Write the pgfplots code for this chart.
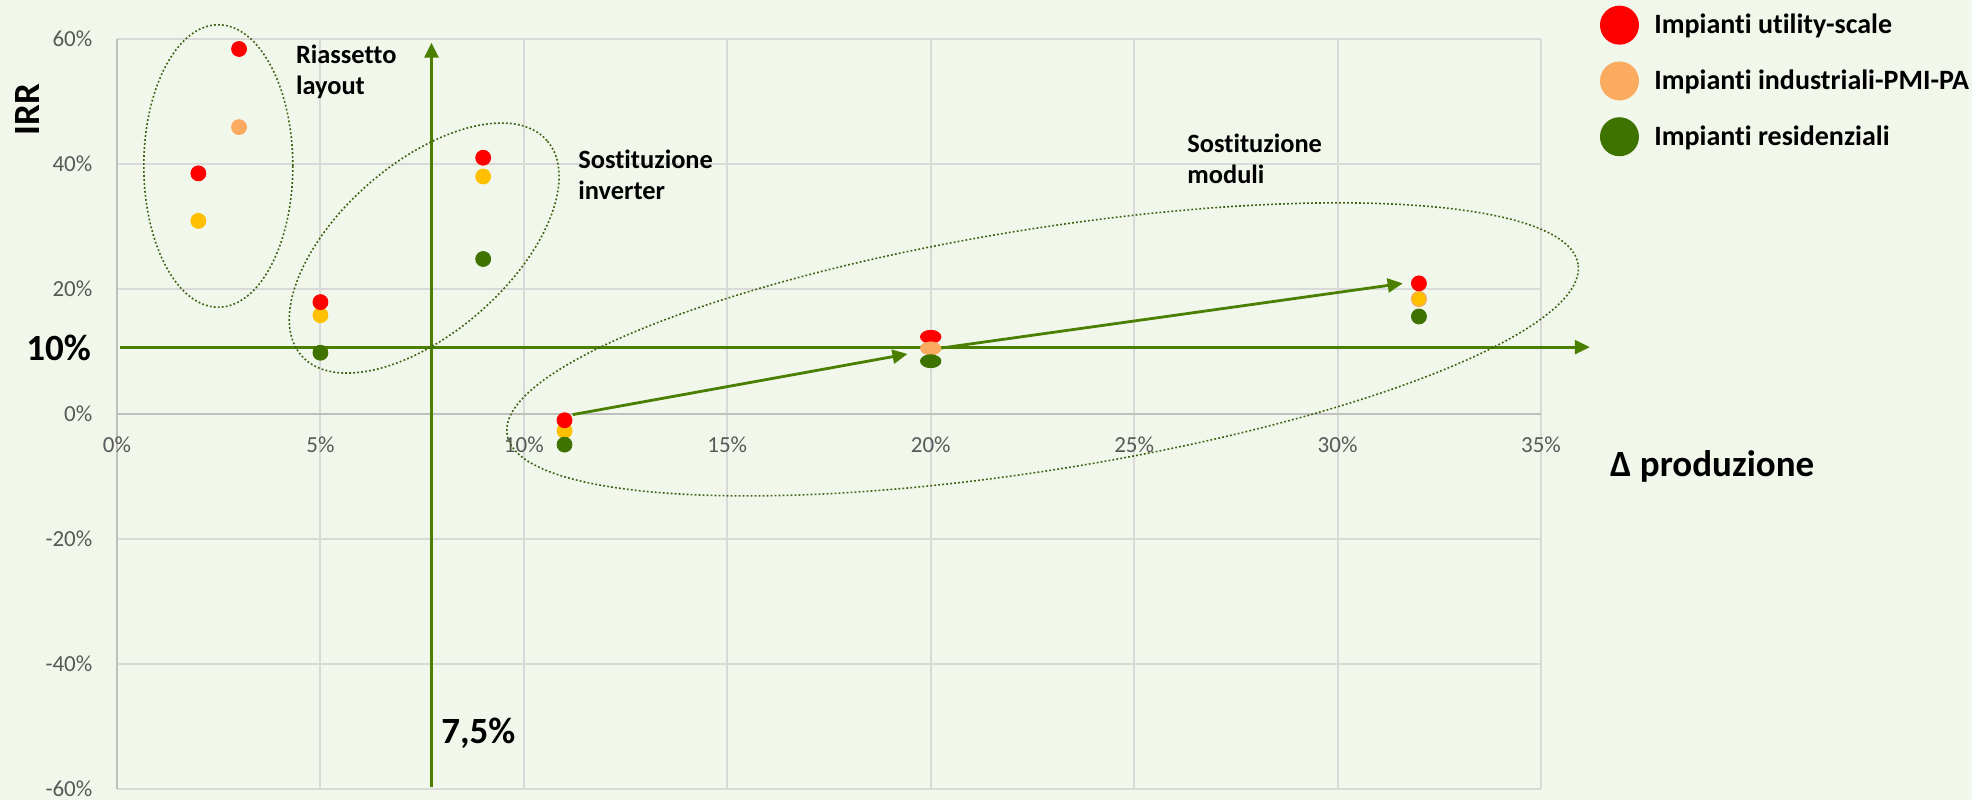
\documentclass[border=0pt]{standalone}
\usepackage{pgfplots}
\pgfplotsset{compat=1.18}
\usepackage{fontspec}
\setmainfont{Carlito}[Ligatures=NoCommon]
\usetikzlibrary{arrows.meta}

\definecolor{bg}{HTML}{F2F7EC}
\definecolor{gridc}{HTML}{D9D9D9}
\definecolor{axc}{HTML}{BFBFBF}
\definecolor{tickc}{HTML}{595959}
\definecolor{ured}{HTML}{FF0000}
\definecolor{iorange}{HTML}{FAAB60}
\definecolor{iyellow}{HTML}{FFC000}
\definecolor{rgreen}{HTML}{3F7300}
\definecolor{arrowg}{HTML}{4A7F00}
\definecolor{ellg}{HTML}{3A6210}

\newcommand{\annotfont}{\bfseries\fontsize{13.2}{15}\selectfont}
\newcommand{\legfont}{\bfseries\fontsize{14}{16}\selectfont}
\newcommand{\bigfont}{\bfseries\fontsize{18.5}{21}\selectfont}

\tikzset{
  ell/.style={ellg, line width=0.8pt, dash pattern=on 0.9pt off 1.1pt},
  arr/.style={arrowg, line width=1.4pt, -{Triangle[length=7.5pt,width=7pt]}},
}
\pgfplotsset{
  dot/.style={only marks, mark=*, mark size=3.75pt, forget plot},
  flat/.style={mark options={xscale=1.37, yscale=0.87}},
}

\begin{document}
\begin{tikzpicture}
\fill[bg] (0,0) rectangle (986pt,400pt);
\useasboundingbox (0,0) rectangle (986pt,400pt);
\begin{axis}[
  at={(58.5pt,5.5pt)}, anchor=south west,
  scale only axis, width=712pt, height=375pt,
  xmin=0, xmax=35, ymin=-60, ymax=60,
  axis x line=middle, axis y line=left,
  axis line style={axc, line width=1.2pt, -},
  hide obscured x ticks=false, hide obscured y ticks=false,
  xtick={0,5,...,35}, ytick={-60,-40,...,60},
  xticklabels={0\%,5\%,10\%,15\%,20\%,25\%,30\%,35\%},
  yticklabels={-60\%,-40\%,-20\%,0\%,20\%,40\%,60\%},
  major tick length=0pt,
  grid=major, major grid style={gridc, line width=1pt},
  tick label style={font=\fontsize{11.5}{13}\selectfont, text=tickc, inner sep=0pt},
  xticklabel style={anchor=base, yshift=-19.45pt},
  yticklabel style={anchor=east, xshift=-12.15pt},
  clip=false,
  legend style={at={(axis cs:36.44,65.4)}, anchor=north west, draw=none, fill=none,
    inner sep=0pt, row sep=8.4pt, column sep=7.7pt, nodes={inner sep=0pt},
    font=\legfont, cells={anchor=west}},
  legend image code/.code={\fill[#1, draw=none] (9.75pt,0pt) circle[radius=9.75pt];},
]

% reference thresholds
\draw[arr] (axis cs:7.73,-59.7) -- (axis cs:7.73,59.4);
\draw[arr] (axis cs:0.08,10.7) -- (axis cs:36.2,10.7);

% grouping ellipses
\draw[ell] (axis cs:2.49,39.68) ellipse [x radius=37.25pt, y radius=70.6pt];
\draw[ell, rotate around={41.2:(axis cs:7.55,26.55)}] (axis cs:7.55,26.55) ellipse [x radius=81.6pt, y radius=42.4pt];
\draw[ell, rotate around={9.04:(axis cs:22.75,10.34)}] (axis cs:22.75,10.34) ellipse [x radius=271.1pt, y radius=60.35pt];

% path of module replacement
\draw[arr] (axis cs:11.2,-0.1) -- (axis cs:19.43,9.6);
\draw[arr] (axis cs:20.2,10.5) -- (axis cs:31.6,20.9);

% industriali-PMI-PA (yellow points)
\addplot[dot, color=iyellow] coordinates {(2,30.9) (5,15.8) (9,38.0) (11,-2.7)};
\addplot[dot, mark options={draw=iorange, fill=iyellow, line width=0.6pt}] coordinates {(32,18.4)};
% utility-scale
\addplot[dot, color=ured] coordinates {(2,38.5) (3,58.4) (5,17.9) (9,41.0) (11,-1.0) (32,20.9)};
\addplot[dot, flat, color=ured] coordinates {(20,12.35)};
% industriali-PMI-PA (orange points)
\addplot[dot, color=iorange] coordinates {(3,45.9)};
\addplot[dot, flat, color=iorange] coordinates {(20,10.5)};
% residenziali
\addplot[dot, color=rgreen] coordinates {(5,9.8) (9,24.8) (11,-4.9) (32,15.6)};
\addplot[dot, flat, color=rgreen] coordinates {(20,8.45)};

\addlegendimage{fill=ured}
\addlegendentry{Impianti utility-scale}
\addlegendimage{fill=iorange}
\addlegendentry{Impianti industriali-PMI-PA}
\addlegendimage{fill=rgreen}
\addlegendentry{Impianti residenziali}

% annotations
\node[anchor=base west, inner sep=0pt, font=\annotfont] at (axis cs:4.39,56.13) {Riassetto};
\node[anchor=base west, inner sep=0pt, font=\annotfont] at (axis cs:4.39,51.05) {layout};
\node[anchor=base west, inner sep=0pt, font=\annotfont] at (axis cs:11.33,39.31) {Sostituzione};
\node[anchor=base west, inner sep=0pt, font=\annotfont] at (axis cs:11.33,34.35) {inverter};
\node[anchor=base west, inner sep=0pt, font=\annotfont] at (axis cs:26.30,41.87) {Sostituzione};
\node[anchor=base west, inner sep=0pt, font=\annotfont] at (axis cs:26.30,36.91) {moduli};
\node[anchor=base west, inner sep=0pt, font=\bigfont] at (axis cs:-2.237,8.61) {10\%};
\node[anchor=base west, inner sep=0pt, font=\bigfont] at (axis cs:7.96,-52.76) {7,5\%};
\node[anchor=base west, inner sep=0pt, font=\bigfont] at (axis cs:36.69,-10.07) {Δ produzione};
\node[rotate=90, inner sep=0pt, font=\bigfont] at (axis cs:-2.19,48.65) {IRR};
\end{axis}
\end{tikzpicture}
\end{document}
